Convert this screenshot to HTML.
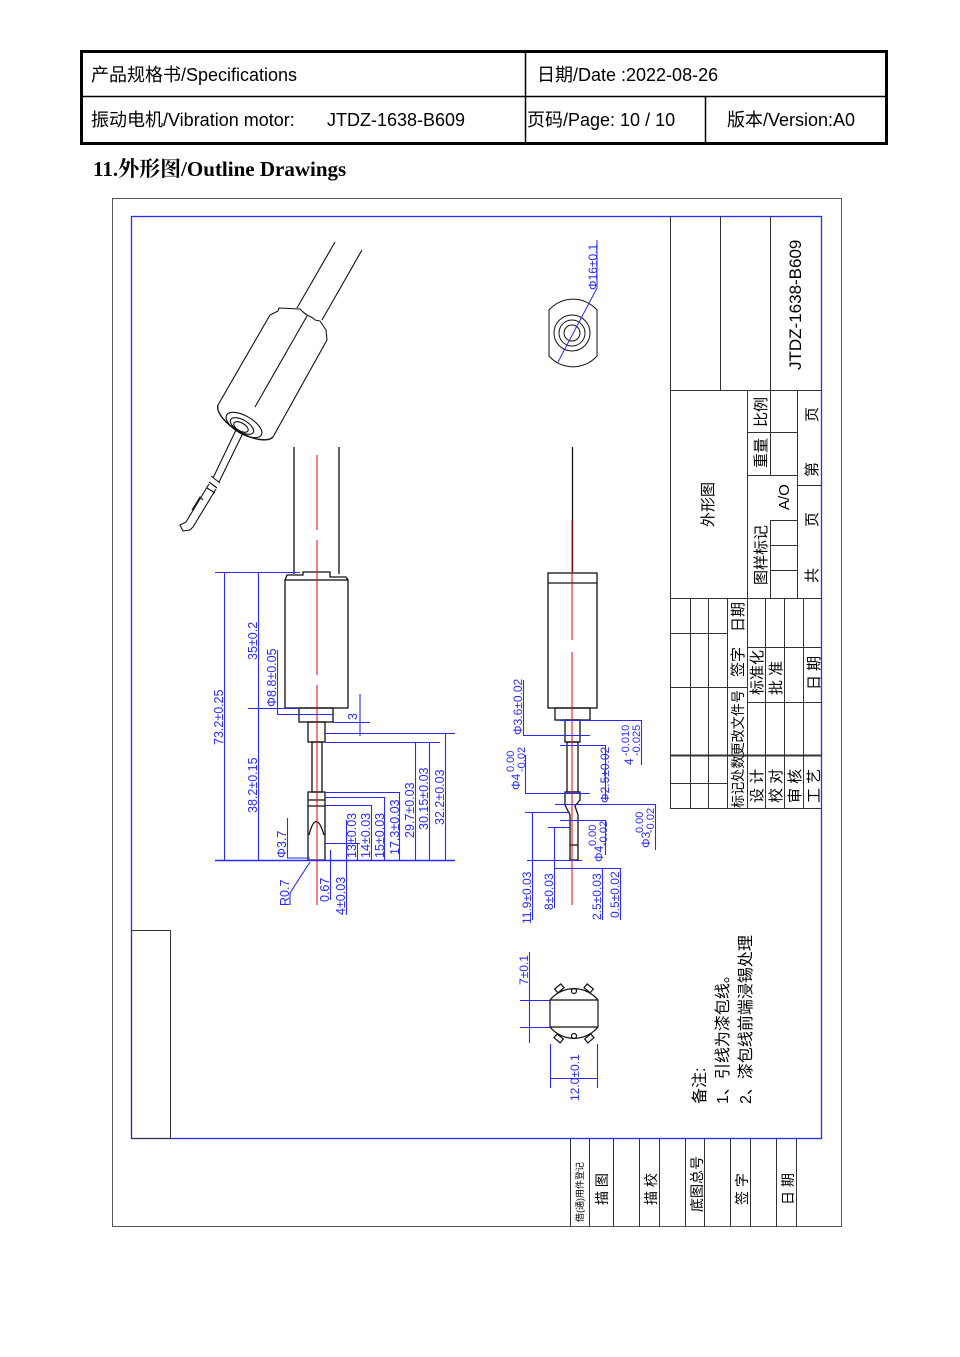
<!DOCTYPE html>
<html><head><meta charset="utf-8"><style>
html,body{margin:0;padding:0;background:#fff;}
svg{display:block;}
</style></head><body>
<svg width="960" height="1357" viewBox="0 0 960 1357" xmlns="http://www.w3.org/2000/svg" font-family="Liberation Sans, Noto Sans CJK SC, sans-serif">
<!-- header table -->
<rect x="81.5" y="51.5" width="805" height="92" fill="none" stroke="#000" stroke-width="3"/>
<line x1="81" y1="96.5" x2="887" y2="96.5" stroke="#000" stroke-width="1.5"/>
<line x1="525.5" y1="51" x2="525.5" y2="144" stroke="#000" stroke-width="1.5"/>
<line x1="705.5" y1="96" x2="705.5" y2="144" stroke="#000" stroke-width="1.5"/>
<g font-size="18" fill="#000">
<text x="91" y="81">产品规格书/Specifications</text>
<text x="537" y="81">日期/Date :2022-08-26</text>
<text x="91" y="126">振动电机/Vibration motor:</text>
<text x="327" y="126">JTDZ-1638-B609</text>
<text x="527" y="126">页码/Page: 10 / 10</text>
<text x="727" y="126">版本/Version:A0</text>
</g>
<text x="93" y="176" font-family="Liberation Serif, Noto Serif CJK SC, serif" font-weight="bold" font-size="21">11.外形图/Outline Drawings</text>

<!-- frame -->
<rect x="112.5" y="198.5" width="729" height="1028" fill="none" stroke="#555" stroke-width="1"/>
<rect x="131.5" y="216.5" width="690" height="922" fill="none" stroke="#2a2aff" stroke-width="1.3"/>
<rect x="131.5" y="930.5" width="39" height="208" fill="none" stroke="#333" stroke-width="1"/>

<!-- title block -->
<g stroke="#333" stroke-width="1" fill="none">
<line x1="670.5" y1="216" x2="670.5" y2="808"/>
<line x1="720.5" y1="216" x2="720.5" y2="390"/>
<line x1="770.5" y1="216" x2="770.5" y2="390"/>
<line x1="670" y1="390.5" x2="822" y2="390.5"/>
<line x1="747.5" y1="390" x2="747.5" y2="808"/>
<line x1="770.5" y1="390" x2="770.5" y2="475"/>
<line x1="797.5" y1="390" x2="797.5" y2="598"/>
<line x1="747" y1="432.5" x2="797" y2="432.5"/>
<line x1="747" y1="475.5" x2="797" y2="475.5"/>
<line x1="770" y1="520.5" x2="797" y2="520.5"/>
<line x1="770.5" y1="520" x2="770.5" y2="598"/>
<line x1="770" y1="545.5" x2="797" y2="545.5"/>
<line x1="770" y1="570.5" x2="797" y2="570.5"/>
<line x1="797" y1="485.5" x2="822" y2="485.5"/>
<line x1="670" y1="598.5" x2="822" y2="598.5"/>
<line x1="690.5" y1="598" x2="690.5" y2="808"/>
<line x1="708.5" y1="598" x2="708.5" y2="808"/>
<line x1="727.5" y1="598" x2="727.5" y2="808"/>
<line x1="765.5" y1="598" x2="765.5" y2="808"/>
<line x1="784.5" y1="598" x2="784.5" y2="808"/>
<line x1="803.5" y1="598" x2="803.5" y2="808"/>
<line x1="670" y1="633.5" x2="727" y2="633.5"/>
<line x1="670" y1="687.5" x2="747" y2="687.5"/>
<line x1="747" y1="647.5" x2="822" y2="647.5"/>
<line x1="747" y1="702.5" x2="822" y2="702.5"/>
<line x1="670" y1="755.5" x2="822" y2="755.5" stroke-width="2"/>
<line x1="670" y1="783.5" x2="727" y2="783.5"/>
<line x1="670" y1="808.5" x2="822" y2="808.5"/>
</g>
<g font-size="15" fill="#000">
<text transform="translate(801,370) rotate(-90)" font-size="17">JTDZ-1638-B609</text>
<text transform="translate(713,527) rotate(-90)">外形图</text>
<text transform="translate(766,427) rotate(-90)">比例</text>
<text transform="translate(766,468) rotate(-90)">重量</text>
<text transform="translate(789,510) rotate(-90)">A/O</text>
<text transform="translate(766,585) rotate(-90)">图样标记</text>
<text transform="translate(817,422) rotate(-90)">页</text>
<text transform="translate(817,477) rotate(-90)">第</text>
<text transform="translate(817,527) rotate(-90)">页</text>
<text transform="translate(817,583) rotate(-90)">共</text>
<text transform="translate(743,632) rotate(-90)">日期</text>
<text transform="translate(743,677) rotate(-90)">签字</text>
<text transform="translate(743,808) rotate(-90)" font-size="14" textLength="118" lengthAdjust="spacingAndGlyphs">标记处数更改文件号</text>
<text transform="translate(762,695) rotate(-90)">标准化</text>
<text transform="translate(781,695) rotate(-90)">批 准</text>
<text transform="translate(819,690) rotate(-90)">日 期</text>
<text transform="translate(762,803) rotate(-90)">设 计</text>
<text transform="translate(781,803) rotate(-90)">校 对</text>
<text transform="translate(800,803) rotate(-90)">审 核</text>
<text transform="translate(819,803) rotate(-90)">工 艺</text>
</g>

<!-- bottom strip -->
<g stroke="#333" stroke-width="1">
<line x1="570.5" y1="1139" x2="570.5" y2="1227"/>
<line x1="589.5" y1="1139" x2="589.5" y2="1227"/>
<line x1="613.5" y1="1139" x2="613.5" y2="1227"/>
<line x1="639.5" y1="1139" x2="639.5" y2="1227"/>
<line x1="659.5" y1="1139" x2="659.5" y2="1227"/>
<line x1="685.5" y1="1139" x2="685.5" y2="1227"/>
<line x1="704.5" y1="1139" x2="704.5" y2="1227"/>
<line x1="730.5" y1="1139" x2="730.5" y2="1227"/>
<line x1="750.5" y1="1139" x2="750.5" y2="1227"/>
<line x1="776.5" y1="1139" x2="776.5" y2="1227"/>
<line x1="796.5" y1="1139" x2="796.5" y2="1227"/>
</g>
<g font-size="14" fill="#000">
<text transform="translate(583,1222) rotate(-90)" font-size="9">借(通)用件登记</text>
<text transform="translate(607,1205) rotate(-90)">描 图</text>
<text transform="translate(656,1205) rotate(-90)">描 校</text>
<text transform="translate(702,1212) rotate(-90)">底图总号</text>
<text transform="translate(747,1205) rotate(-90)">签 字</text>
<text transform="translate(793,1205) rotate(-90)">日 期</text>
</g>

<!-- isometric motor -->
<g stroke="#111" stroke-width="1.1" fill="none" stroke-linejoin="round">
<line x1="335" y1="242" x2="297" y2="308"/>
<line x1="362" y1="250" x2="322" y2="320"/>
<path d="M270,315 L278,311 L279,308 L300,309 L303,312 L307,315 L313,318 L315,320 L320,321 L326,330 L327,340"/>
<path d="M270,315 L218,405"/>
<path d="M307,316 L255,407"/>
<path d="M327,340 L273,437"/>
<path d="M218,405 A32,14 30 0 0 273,437" stroke-width="1.4"/>
<ellipse cx="244" cy="425" rx="20" ry="9" transform="rotate(30 244 425)"/>
<ellipse cx="242" cy="426" rx="13" ry="6" transform="rotate(30 242 426)"/>
<ellipse cx="241" cy="427" rx="8" ry="4" transform="rotate(30 241 427)"/>
<path d="M236,430 L213,478 M243,433 L219,482"/>
<path d="M211,476 L220,483 M209,482 L217,488 M207,488 L215,493"/>
<path d="M209,484 L186,522 M216,489 L193,527"/>
<path d="M186,522 L180,525 L183,531 L190,530 L193,527"/>
<path d="M192,510 L200,497 L203,500"/>
</g>

<!-- end view top -->
<g stroke="#111" stroke-width="1" fill="none">
<path d="M549,310 A32,32 0 0 1 597,310 L597,356 A32,32 0 0 1 549,356 Z"/>
<circle cx="572" cy="333" r="18"/>
<circle cx="572" cy="333" r="13"/>
<circle cx="572" cy="333" r="8"/>
</g>
<g stroke="#2a2aff" stroke-width="1" fill="none">
<line x1="558" y1="362" x2="597" y2="288"/>
<line x1="597" y1="288" x2="597" y2="240"/>
</g>
<text transform="translate(597,290) rotate(-90)" font-size="12" fill="#2a2aff">Φ16±0.1</text>

<!-- left side view motor -->
<g stroke="#111" stroke-width="1.3" fill="none">
<line x1="294" y1="447" x2="294" y2="574"/>
<line x1="339" y1="447" x2="339" y2="574"/>
<path d="M285,580 L287,575 L303,575 L303,572 L330,572 L330,577 L346,577 L348,580"/>
<rect x="285" y="580" width="63" height="128"/>
<rect x="299" y="708" width="34" height="14"/>
<rect x="308" y="722" width="17" height="20"/>
<rect x="312" y="742" width="10" height="50"/>
<path d="M308,792 L325,792 L325,860 L308,860 Z"/>
<path d="M308,800 L325,800 M308,806 L325,806"/>
<path d="M309,835 Q316,808 324,835"/>
</g>
<g stroke="#e00" stroke-width="1">
<line x1="317" y1="455" x2="317" y2="530"/>
<line x1="317" y1="540" x2="317" y2="675"/>
<line x1="317" y1="685" x2="317" y2="905"/>
</g>
<!-- left dims -->
<g stroke="#2a2aff" stroke-width="1.1" fill="none">
<line x1="215" y1="860.5" x2="455" y2="860.5" stroke-width="1.6"/>
<line x1="215" y1="572.5" x2="300" y2="572.5"/>
<line x1="248" y1="708.5" x2="300" y2="708.5"/>
<line x1="224.5" y1="572" x2="224.5" y2="860"/>
<line x1="258.5" y1="572" x2="258.5" y2="860"/>
<line x1="277.5" y1="650" x2="277.5" y2="714"/>
<line x1="277" y1="714.5" x2="333" y2="714.5"/>
<line x1="325" y1="733.5" x2="455" y2="733.5"/>
<line x1="325" y1="742.5" x2="440" y2="742.5"/>
<line x1="325" y1="792.5" x2="400" y2="792.5"/>
<line x1="325" y1="797.5" x2="385" y2="797.5"/>
<line x1="325" y1="805.5" x2="372" y2="805.5"/>
<line x1="325" y1="843.5" x2="360" y2="843.5"/>
<line x1="445.5" y1="733" x2="445.5" y2="860"/>
<line x1="429.5" y1="742" x2="429.5" y2="860"/>
<line x1="415.5" y1="742" x2="415.5" y2="860"/>
<line x1="399.5" y1="792" x2="399.5" y2="860"/>
<line x1="384.5" y1="797" x2="384.5" y2="860"/>
<line x1="371.5" y1="805" x2="371.5" y2="860"/>
<line x1="357.5" y1="843" x2="357.5" y2="860"/>
<line x1="360" y1="694" x2="360" y2="736"/>
<line x1="333" y1="722.5" x2="370" y2="722.5"/>
<line x1="346.5" y1="820" x2="346.5" y2="915"/>
<line x1="330.5" y1="850" x2="330.5" y2="900"/>
<line x1="287.5" y1="818" x2="287.5" y2="858"/>
<line x1="287" y1="858" x2="310" y2="858"/>
<line x1="310" y1="862" x2="290" y2="893"/>
<line x1="290" y1="893" x2="290" y2="905"/>
</g>
<g font-size="12.5" fill="#2a2aff">
<text transform="translate(223,745) rotate(-90)">73.2±0.25</text>
<text transform="translate(257,660) rotate(-90)">35±0.2</text>
<text transform="translate(276,707) rotate(-90)">Φ8.8±0.05</text>
<text transform="translate(257,813) rotate(-90)">38.2±0.15</text>
<text transform="translate(286,858) rotate(-90)">Φ3.7</text>
<text transform="translate(289,906) rotate(-90)">R0.7</text>
<text transform="translate(329,902) rotate(-90)">0.67</text>
<text transform="translate(345,915) rotate(-90)">4±0.03</text>
<text transform="translate(357,720) rotate(-90)">3</text>
<text transform="translate(356,858) rotate(-90)">13±0.03</text>
<text transform="translate(370,858) rotate(-90)">14±0.03</text>
<text transform="translate(384,858) rotate(-90)">15±0.03</text>
<text transform="translate(399,855) rotate(-90)">17.3±0.03</text>
<text transform="translate(414,838) rotate(-90)">29.7±0.03</text>
<text transform="translate(428,830) rotate(-90)">30.15±0.03</text>
<text transform="translate(444,825) rotate(-90)">32.2±0.03</text>
</g>

<!-- right side view motor -->
<g stroke="#111" stroke-width="1.3" fill="none">
<line x1="572.5" y1="447" x2="572.5" y2="572"/>
<rect x="548" y="573" width="49" height="135"/>
<line x1="548" y1="583" x2="597" y2="583"/>
<rect x="555" y="708" width="35" height="12"/>
<rect x="565" y="720" width="15" height="22"/>
<rect x="567" y="742" width="11" height="50"/>
<path d="M565,792 L580,792 L580,800 L575,806 L578,815 L578,860 L570,860 L570,815 L565,805 Z"/>
<line x1="570" y1="845" x2="578" y2="845"/>
</g>
<g stroke="#e00" stroke-width="1">
<line x1="572" y1="520" x2="572" y2="640"/>
<line x1="572" y1="652" x2="572" y2="905"/>
</g>
<g stroke="#2a2aff" stroke-width="1.1" fill="none">
<line x1="560" y1="720.5" x2="642" y2="720.5"/>
<line x1="523.5" y1="680" x2="523.5" y2="735"/>
<line x1="523" y1="735.5" x2="590" y2="735.5"/>
<line x1="560" y1="745.5" x2="605" y2="745.5"/>
<line x1="605.5" y1="745" x2="605.5" y2="800"/>
<line x1="525.5" y1="755" x2="525.5" y2="793"/>
<line x1="525" y1="793.5" x2="590" y2="793.5"/>
<line x1="555" y1="804.5" x2="655" y2="804.5"/>
<line x1="641.5" y1="720" x2="641.5" y2="765"/>
<line x1="532.5" y1="812" x2="532.5" y2="920"/>
<line x1="525" y1="812.5" x2="570" y2="812.5"/>
<line x1="554.5" y1="827" x2="554.5" y2="908"/>
<line x1="548" y1="827.5" x2="570" y2="827.5"/>
<line x1="560" y1="820.5" x2="605" y2="820.5"/>
<line x1="605.5" y1="820" x2="605.5" y2="855"/>
<line x1="527" y1="860.5" x2="582" y2="860.5"/>
<line x1="555" y1="868.5" x2="620" y2="868.5"/>
<line x1="602.5" y1="868" x2="602.5" y2="920"/>
<line x1="620.5" y1="868" x2="620.5" y2="920"/>
<line x1="655.5" y1="804" x2="655.5" y2="850"/>
</g>
<g font-size="12" fill="#2a2aff">
<text transform="translate(522,735) rotate(-90)">Φ3.6±0.02</text>
<text transform="translate(633,765) rotate(-90)">4</text>
<text transform="translate(629,756) rotate(-90)" font-size="11">-0.010</text>
<text transform="translate(640,756) rotate(-90)" font-size="11">-0.025</text>
<text transform="translate(520,790) rotate(-90)">Φ4</text>
<text transform="translate(514,772) rotate(-90)" font-size="11">0.00</text>
<text transform="translate(525,772) rotate(-90)" font-size="11">-0.02</text>
<text transform="translate(609,803) rotate(-90)">Φ2.5±0.02</text>
<text transform="translate(650,848) rotate(-90)">Φ3</text>
<text transform="translate(643,833) rotate(-90)" font-size="11">0.00</text>
<text transform="translate(654,833) rotate(-90)" font-size="11">-0.02</text>
<text transform="translate(603,862) rotate(-90)">Φ4</text>
<text transform="translate(596,846) rotate(-90)" font-size="11">0.00</text>
<text transform="translate(607,846) rotate(-90)" font-size="11">-0.02</text>
<text transform="translate(531,924) rotate(-90)">11.9±0.03</text>
<text transform="translate(553,910) rotate(-90)">8±0.03</text>
<text transform="translate(601,920) rotate(-90)">2.5±0.03</text>
<text transform="translate(619,918) rotate(-90)">0.5±0.02</text>
</g>

<!-- bottom end view -->
<g stroke="#111" stroke-width="1.2" fill="none">
<path d="M550,1000 A31,31 0 0 1 598,1000 L598,1027 A31,31 0 0 1 550,1027 Z"/>
<line x1="550" y1="1000" x2="598" y2="1000"/>
<line x1="550" y1="1027" x2="598" y2="1027"/>
<circle cx="574" cy="991" r="2.5"/>
<circle cx="574" cy="1036" r="2.5"/>
<rect x="555" y="986" width="8" height="5" transform="rotate(-40 559 988)"/>
<rect x="585" y="986" width="8" height="5" transform="rotate(40 589 988)"/>
<rect x="555" y="1036" width="8" height="5" transform="rotate(40 559 1038)"/>
<rect x="585" y="1036" width="8" height="5" transform="rotate(-40 589 1038)"/>
</g>
<g stroke="#2a2aff" stroke-width="1.1" fill="none">
<line x1="520" y1="1000.5" x2="550" y2="1000.5"/>
<line x1="520" y1="1027.5" x2="550" y2="1027.5"/>
<line x1="529.5" y1="952" x2="529.5" y2="1043"/>
<line x1="550.5" y1="1044" x2="550.5" y2="1088"/>
<line x1="597.5" y1="1044" x2="597.5" y2="1088"/>
<line x1="550" y1="1078.5" x2="598" y2="1078.5"/>
</g>
<g font-size="12" fill="#2a2aff">
<text transform="translate(528,985) rotate(-90)">7±0.1</text>
<text transform="translate(579,1101) rotate(-90)">12.0±0.1</text>
</g>
<g font-size="16" fill="#000">
<text transform="translate(705,1104) rotate(-90)">备注:</text>
<text transform="translate(728,1104) rotate(-90)">1、引线为漆包线。</text>
<text transform="translate(751,1104) rotate(-90)">2、漆包线前端浸锡处理</text>
</g>
</svg>
</body></html>
